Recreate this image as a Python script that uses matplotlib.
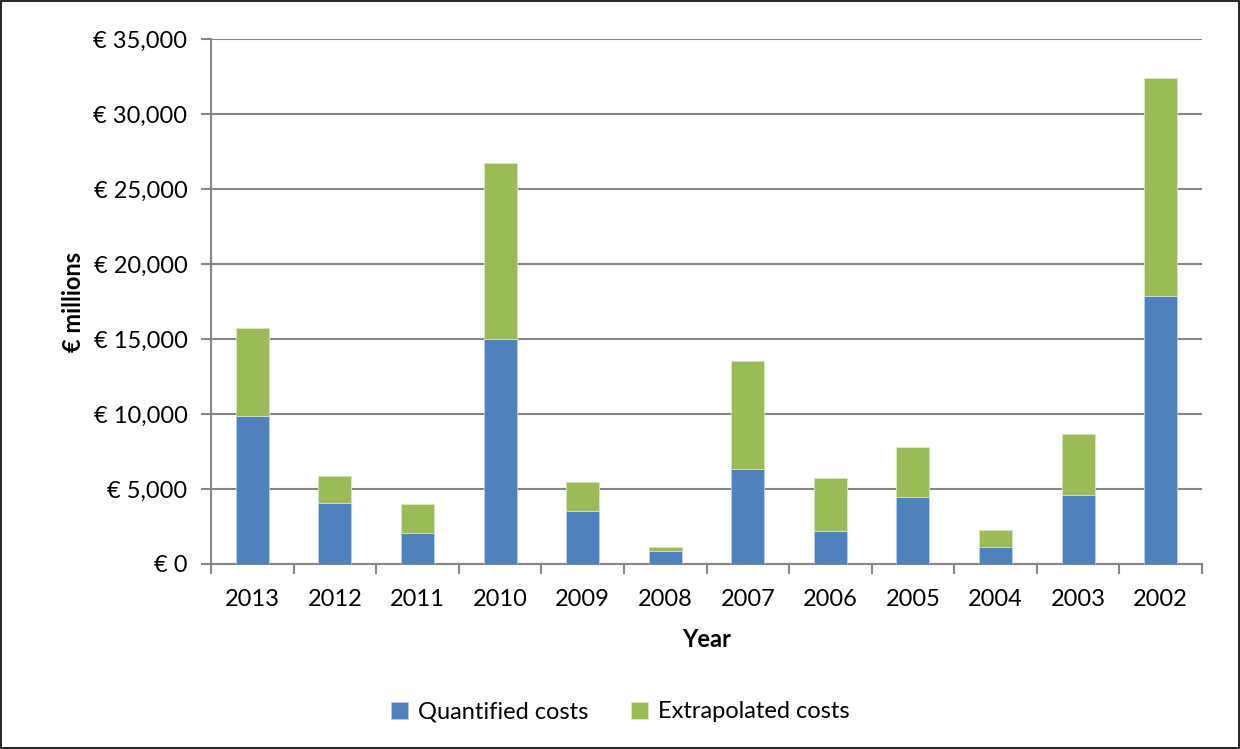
import numpy as np
import matplotlib
matplotlib.use("Agg")
from matplotlib import pyplot as plt
from matplotlib.patches import Rectangle
from matplotlib.ticker import FuncFormatter

# Data (EUR millions)
years = ["2013", "2012", "2011", "2010", "2009", "2008", "2007", "2006", "2005", "2004", "2003", "2002"]
quantified = [9870, 4100, 2090, 14980, 3510, 840, 6310, 2180, 4440, 1160, 4580, 17870]
totals = [15750, 5850, 3980, 26710, 5470, 1160, 13530, 5760, 7820, 2250, 8650, 32380]
extrapolated = [t - q for t, q in zip(totals, quantified)]

plt.rcParams['font.family'] = ['Lato', 'DejaVu Sans']
grey = "#868686"
fs = 17

fig = plt.figure(figsize=(12.4, 7.49), dpi=100)
ax = fig.add_axes([211 / 1240, 1 - 564 / 749, 991 / 1240, 525 / 749])

x = np.arange(len(years))
ax.bar(x, quantified, width=0.4, color="#4F81BD", edgecolor="#B9CDE5", linewidth=0.6,
       label="Quantified costs", zorder=3)
ax.bar(x, extrapolated, bottom=quantified, width=0.4, color="#9BBB59", edgecolor="#D7E4BD",
       linewidth=0.6, label="Extrapolated costs", zorder=3)

ax.set_xlim(-0.5, len(years) - 0.5)
ax.set_ylim(0, 35000)
ax.set_yticks(np.arange(0, 35001, 5000))
ax.yaxis.set_major_formatter(FuncFormatter(lambda v, p: f"€ {v:,.0f}"))
ax.yaxis.grid(True, color=grey, linewidth=1.5, zorder=0)

# category boundaries get tick marks, centers get labels
ax.set_xticks(np.arange(-0.5, len(years), 1.0))
ax.set_xticklabels([])
ax.set_xticks(x, minor=True)
ax.set_xticklabels(years, minor=True)
ax.tick_params(axis="x", which="major", length=7, width=1.5, color=grey, direction="out")
ax.tick_params(axis="x", which="minor", length=0, pad=18, labelsize=fs)
ax.tick_params(axis="y", length=7, width=1.5, color=grey, direction="out", pad=10, labelsize=fs)

for s in ["top", "right"]:
    ax.spines[s].set_visible(False)
for s in ["left", "bottom"]:
    ax.spines[s].set_color(grey)
    ax.spines[s].set_linewidth(1.5)

ax.set_xlabel("Year", fontsize=fs, fontweight="bold", labelpad=13)
ax.set_ylabel("€ millions", fontsize=fs, fontweight="bold", labelpad=6)

fig.legend(loc="center", bbox_to_anchor=(0.5, 1 - 712 / 749), ncol=2, frameon=False,
           fontsize=fs, handlelength=0.75, handleheight=0.75, columnspacing=1.8, handletextpad=0.4)

fig.patches.append(Rectangle((0.001, 0.001), 0.998, 0.997, transform=fig.transFigure,
                             fill=False, edgecolor="black", linewidth=1.2))

fig.savefig("out.png", dpi=100)
